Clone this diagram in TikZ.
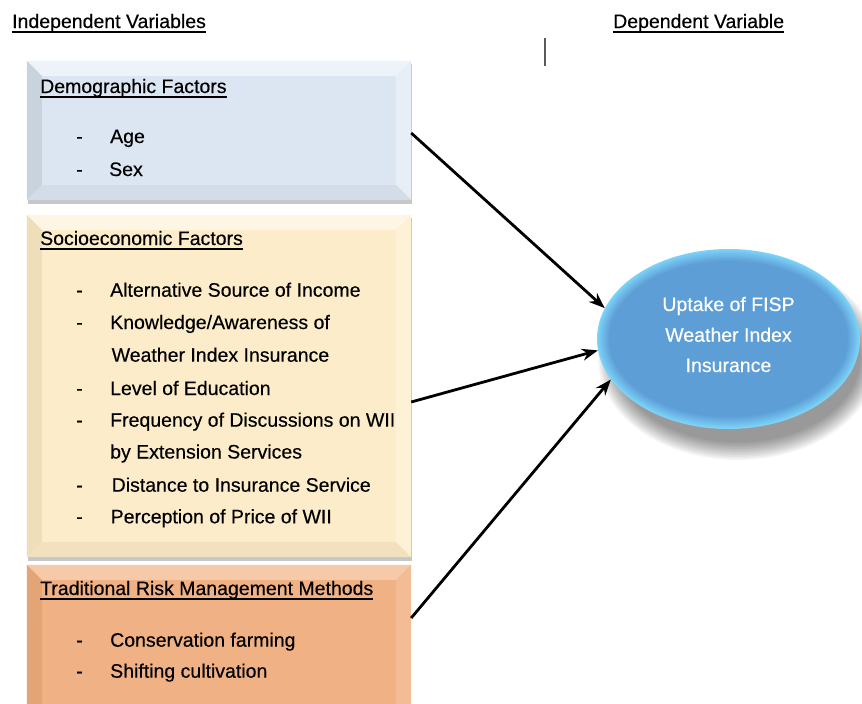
\documentclass[tikz,border=0pt]{standalone}
\usepackage{fontspec}
\setmainfont{Liberation Sans}[UprightFeatures={FakeBold=0.35}]
\usetikzlibrary{shapes.geometric,arrows.meta,calc}
\definecolor{demoC}{HTML}{DCE6F2}
\definecolor{demoT}{HTML}{EEF3F9}
\definecolor{demoL}{HTML}{C8D3DE}
\definecolor{demoR}{HTML}{E7EEF6}
\definecolor{demoB}{HTML}{D3DCE7}
\definecolor{socC}{HTML}{FCECC9}
\definecolor{socT}{HTML}{FDF6E5}
\definecolor{socL}{HTML}{EEDEB9}
\definecolor{socR}{HTML}{FDF1D6}
\definecolor{socB}{HTML}{F1E1BC}
\definecolor{traC}{HTML}{F0B185}
\definecolor{traT}{HTML}{F6CAA8}
\definecolor{traL}{HTML}{E3A576}
\definecolor{traR}{HTML}{F3BC94}
\definecolor{traB}{HTML}{E5A678}
\definecolor{rimC}{HTML}{7DD3F8}
\definecolor{bodyC}{HTML}{5C9CD6}
\newsavebox\ulbox
\newcommand\myul[1]{\sbox\ulbox{#1}\rlap{\rule[-4.5pt]{\wd\ulbox}{1.3pt}}\usebox\ulbox}
\newcommand\bevel[6]{%
  \fill[#2] (#1.north west) -- (#1.north east) -- ([xshift=-#6,yshift=-#6]#1.north east) -- ([xshift=#6,yshift=-#6]#1.north west) -- cycle;
  \fill[#3] (#1.north west) -- ([xshift=#6,yshift=-#6]#1.north west) -- ([xshift=#6,yshift=#6]#1.south west) -- (#1.south west) -- cycle;
  \fill[#4] (#1.north east) -- ([xshift=-#6,yshift=-#6]#1.north east) -- ([xshift=-#6,yshift=#6]#1.south east) -- (#1.south east) -- cycle;
  \fill[#5] (#1.south west) -- ([xshift=#6,yshift=#6]#1.south west) -- ([xshift=-#6,yshift=#6]#1.south east) -- (#1.south east) -- cycle;
}
\begin{document}
\begin{tikzpicture}[x=1pt,y=-1pt,
  txt/.style={inner sep=0pt, anchor=base west, font=\fontsize{19.5}{23}\selectfont},
  ctxt/.style={inner sep=0pt, anchor=base, text=white, font=\fontsize{19.5}{23}\selectfont},
  boxn/.style={rectangle, draw=none, inner sep=0pt, minimum width=384pt},
  arr/.style={line width=2.8pt, -{Stealth[length=16pt,width=12pt]}}]
\clip (0,0) rectangle (862,704);
\fill[white] (0,0) rectangle (862,704);

% headings
\node[txt] (hind) at (12,28) {\myul{Independent Variables}};
\node[txt] (hdep) at (613,28) {\myul{Dependent Variable}};
\draw[black!65, line width=1.4pt] (545,38) -- (545,66);

% box shadows
\fill[black!22] (28,64) rectangle (412,203.5);
\fill[black!22] (28,218) rectangle (412,560.5);

% boxes
\node[boxn, fill=demoC, minimum height=139pt] (demo) at (219,130.5) {};
\bevel{demo}{demoT}{demoL}{demoR}{demoB}{15pt}
\node[boxn, fill=socC, minimum height=342pt] (socio) at (219,386) {};
\bevel{socio}{socT}{socL}{socR}{socB}{15pt}
\node[boxn, fill=traC, minimum height=155pt] (trad) at (219,642.5) {};
\bevel{trad}{traT}{traL}{traR}{traB}{15pt}

% demographic text
\node[txt] (dh) at (40,93) {\myul{Demographic Factors}};
\node[txt] (dd1) at (76,143) {-};
\node[txt] (d1) at (110,143) {Age};
\node[txt] (dd2) at (76,176) {-};
\node[txt] (d2) at (109,176) {Sex};

% socioeconomic text
\node[txt] (sh) at (40,245) {\myul{Socioeconomic Factors}};
\node[txt] (sd1) at (76,296.7) {-};
\node[txt] (s1) at (110,296.7) {Alternative Source of Income};
\node[txt] (sd2) at (76,329) {-};
\node[txt] (s2) at (110,329) {Knowledge/Awareness of};
\node[txt] (s2b) at (111.5,361.7) {Weather Index Insurance};
\node[txt] (sd3) at (76,395) {-};
\node[txt] (s3) at (110,395) {Level of Education};
\node[txt] (sd4) at (76,426.7) {-};
\node[txt] (s4) at (110,426.7) {Frequency of Discussions on WII};
\node[txt] (s4b) at (110,458.5) {by Extension Services};
\node[txt] (sd5) at (76,491.7) {-};
\node[txt] (s5) at (111.5,491.7) {Distance to Insurance Service};
\node[txt] (sd6) at (76,523.3) {-};
\node[txt] (s6) at (110.5,523.3) {Perception of Price of WII};

% traditional text
\node[txt] (th) at (40,595) {\myul{Traditional Risk Management Methods}};
\node[txt] (td1) at (76,646.7) {-};
\node[txt] (t1) at (110,646.7) {Conservation farming};
\node[txt] (td2) at (76,677.7) {-};
\node[txt] (t2) at (110,677.7) {Shifting cultivation};

% ellipse shadow
\foreach \k in {0,...,11}{
  \fill[black, opacity=0.04] (738,358) ellipse [x radius={140pt-1.6pt*\k}, y radius={102pt-1.6pt*\k}];
}
% ellipse body with rim
\foreach \k in {0,...,12}{
  \pgfmathsetmacro\p{100-\k*8}
  \fill[rimC!\p!bodyC] (728.5,339) ellipse [x radius={131.5pt-\k pt}, y radius={90pt-\k pt}];
}
\node[ellipse, draw=none, minimum width=263pt, minimum height=180pt, inner sep=0pt] (dep) at (728.5,339) {};
\node[ctxt] (e1) at (728.5,311) {Uptake of FISP};
\node[ctxt] (e2) at (728.5,341.7) {Weather Index};
\node[ctxt] (e3) at (728.5,372) {Insurance};

% arrows
\draw[arr] ([yshift=-2.5pt]demo.east) -- (dep.166);
\draw[arr] ([yshift=-16pt]socio.east) -- (dep.185);
\draw[arr] ([yshift=24.5pt]trad.east) -- (dep.199);
\end{tikzpicture}
\end{document}
